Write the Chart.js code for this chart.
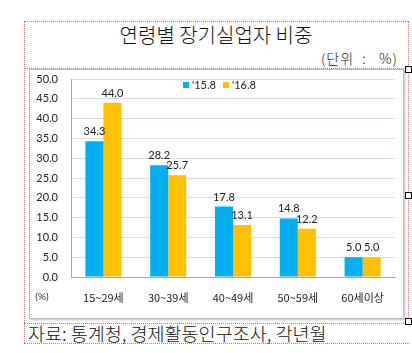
<!DOCTYPE html>
<html>
<head>
<meta charset="utf-8">
<script src="https://cdn.jsdelivr.net/npm/chart.js@4"></script>
<style>
  html, body { margin:0; padding:0; background:#fff; }
  body { width:412px; height:353px; position:relative; overflow:hidden; font-family:"Noto Sans CJK KR", sans-serif; }
  .dh { position:absolute; height:0; border-top:1px dotted #C87878; }
  .dv { position:absolute; width:0; border-left:1px dotted #C87878; }
  .handle { position:absolute; width:5px; height:5px; border:1px solid #000; background:#fff; }
  #title { position:absolute; left:24px; top:20px; width:384px; height:30px; line-height:30px; text-align:center; font-size:20px; font-weight:300; color:#111; }
  #unit { position:absolute; right:14px; top:49px; font-size:14px; line-height:18px; font-weight:300; color:#222; letter-spacing:1px; white-space:pre; }
  #frame { position:absolute; left:29px; top:69px; width:373px; height:248px; border:1px solid #BDBDBD; box-shadow:1px 1px 2px rgba(0,0,0,0.25); background:#fff; }
  #wrap { position:absolute; left:0; top:0; width:373px; height:248px; }
  #source { position:absolute; left:28px; top:321px; font-size:18.5px; line-height:24px; font-weight:300; color:#111; white-space:nowrap; }
</style>
</head>
<body>
<div class="dh" style="left:24px; top:21px; width:384px;"></div>
<div class="dh" style="left:24px; top:68px; width:384px;"></div>
<div class="dv" style="left:24px; top:21px; height:322px;"></div>
<div class="dv" style="left:408px; top:21px; height:300px;"></div>
<div class="dh" style="left:24px; top:323px; width:386px;"></div>
<div class="dh" style="left:24px; top:343px; width:386px;"></div>
<div id="title">연령별 장기실업자 비중</div>
<div id="unit">(단위  :   %)</div>
<div id="frame"><div id="wrap"><canvas id="c" width="373" height="248"></canvas></div></div>
<div class="handle" style="left:405px; top:66px;"></div>
<div class="handle" style="left:405px; top:192px;"></div>
<div class="handle" style="left:405px; top:318px;"></div>
<div id="source">자료: 통계청, 경제활동인구조사, 각년월</div>
<script>
const categories = ["15~29세", "30~39세", "40~49세", "50~59세", "60세이상"];
const seriesNames = ["'15.8", "'16.8"];
const values2015 = [34.3, 28.2, 17.8, 14.8, 5.0];
const values2016 = [44.0, 25.7, 13.1, 12.2, 5.0];
const yTicks = [0, 5, 10, 15, 20, 25, 30, 35, 40, 45, 50];
const axisUnit = "(%)";

const colors = ["#00B0F0", "#FFC000"];
const numFont = "Lato, 'Liberation Sans', sans-serif";

const valueLabels = {
  id: 'valueLabels',
  afterDatasetsDraw(chart) {
    const ctx = chart.ctx;
    ctx.save();
    ctx.font = "11px " + numFont;
    ctx.fillStyle = "#222";
    ctx.textAlign = "center";
    ctx.textBaseline = "bottom";
    chart.data.datasets.forEach((ds, i) => {
      chart.getDatasetMeta(i).data.forEach((bar, j) => {
        ctx.fillText(ds.data[j].toFixed(1), bar.x, bar.y - 4);
      });
    });
    ctx.restore();
  }
};

const customLegend = {
  id: 'customLegend',
  afterDraw(chart) {
    const ctx = chart.ctx;
    ctx.save();
    ctx.font = "11px " + numFont;
    ctx.textBaseline = "middle";
    ctx.textAlign = "left";
    let x = 153;
    const y = 15;
    chart.data.datasets.forEach((ds, i) => {
      ctx.fillStyle = ds.backgroundColor;
      ctx.fillRect(x, y - 3, 6, 6);
      ctx.fillStyle = "#222";
      ctx.fillText(ds.label, x + 9, y);
      x += 40;
    });
    ctx.font = "10px " + numFont;
    ctx.textAlign = "center";
    ctx.fillStyle = "#333";
    ctx.fillText(axisUnit, 12, 227);
    ctx.restore();
  }
};

new Chart(document.getElementById('c'), {
  type: 'bar',
  data: {
    labels: categories,
    datasets: [
      { label: seriesNames[0], data: values2015, backgroundColor: colors[0] },
      { label: seriesNames[1], data: values2016, backgroundColor: colors[1] }
    ]
  },
  options: {
    responsive: false,
    animation: false,
    devicePixelRatio: 1,
    layout: { autoPadding: false, padding: { left: 0, right: 8, top: 9, bottom: 0 } },
    datasets: { bar: { categoryPercentage: 0.556, barPercentage: 1.0 } },
    plugins: { legend: { display: false }, tooltip: { enabled: false }, title: { display: false } },
    scales: {
      x: {
        grid: { display: false, drawTicks: false },
        border: { display: true, color: '#A6A6A6', width: 1 },
        ticks: { padding: 14, color: '#222', font: { family: "'Noto Sans CJK KR', sans-serif", size: 11 } },
        afterFit(scale) { scale.height = 41; scale.paddingLeft = 0; scale.paddingRight = 0; }
      },
      y: {
        min: 0, max: 50,
        afterBuildTicks(scale) { scale.ticks = yTicks.map(v => ({ value: v })); },
        grid: { color: '#D5DEE6', drawTicks: false },
        border: { display: true, color: '#A6A6A6', width: 1 },
        ticks: { padding: 13, color: '#222', font: { family: numFont, size: 11 }, callback: v => Number(v).toFixed(1) },
        afterFit(scale) { scale.width = 41; scale.paddingTop = 0; scale.paddingBottom = 0; }
      }
    }
  },
  plugins: [valueLabels, customLegend]
});
</script>
</body>
</html>
